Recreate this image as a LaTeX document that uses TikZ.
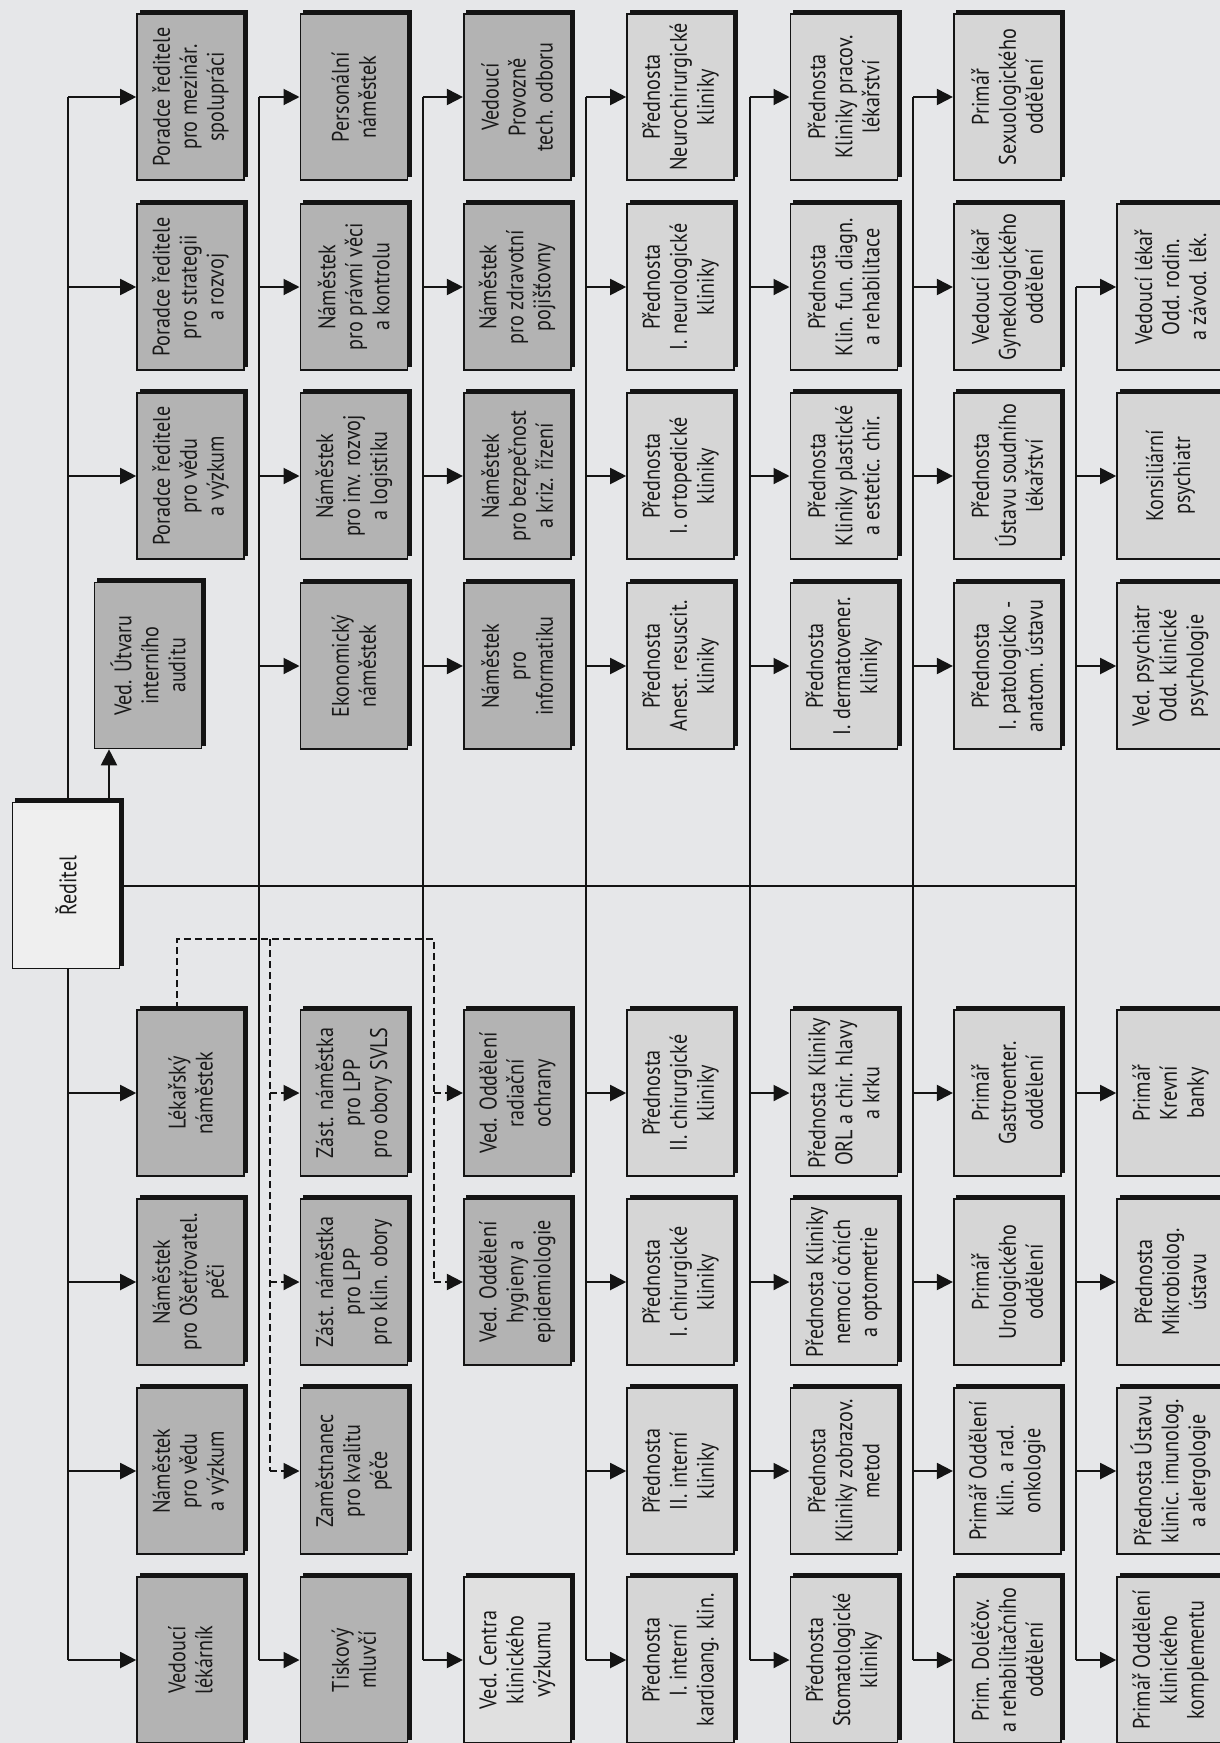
\documentclass[tikz,border=0pt]{standalone}
\usepackage{fontspec}
\setmainfont{PT Sans}[FakeStretch=0.84]
\definecolor{orgbg}   {RGB}{230,231,233}
\definecolor{orgdark} {RGB}{179,179,179}
\definecolor{orglight}{RGB}{214,214,214}
\definecolor{orgpale} {RGB}{224,224,224}
\definecolor{orgtop}  {RGB}{239,239,239}
\definecolor{orgline} {RGB}{20,20,20}
\usetikzlibrary{arrows.meta,positioning,calc,backgrounds}
\tikzset{
  orgbox/.style={rectangle,draw=orgline,line width=1.6pt,fill=#1,
                 minimum width=166pt,minimum height=107pt,rotate=90,
                 inner sep=2pt,align=center,text=black!90,
                 font=\fontsize{24}{27}\selectfont},
  orgbox/.default=orgdark,
  link/.style={line width=2pt,draw=orgline},
  arr/.style={link,-{Triangle[length=16pt,width=16pt]}},
  dlink/.style={link,dash pattern=on 7pt off 4pt},
  darr/.style={dlink,-{Triangle[length=16pt,width=16pt]}},
}

\begin{document}
\begin{tikzpicture}[x=1pt,y=-1pt]
  \useasboundingbox (0,0) rectangle (1220,1743);
  \begin{scope}[on background layer]
    \fill[orgbg] (0,0) rectangle (1220,1743);
  \end{scope}

  % director
  \node[orgbox=orgtop] (reditel) at (66,885.5) {Ředitel};
  \node[orgbox] (audit) at (148,665.5) {Ved. Útvaru\\interního\\auditu};

  % column 1
  \node[orgbox] (c1a) at (190.5,97)   {Poradce ředitele\\pro mezinár.\\spolupráci};
  \node[orgbox] (c1b) at (190.5,287)  {Poradce ředitele\\pro strategii\\a rozvoj};
  \node[orgbox] (c1c) at (190.5,476)  {Poradce ředitele\\pro vědu\\a výzkum};
  \node[orgbox] (c1e) at (190.5,1093) {Lékařský\\náměstek};
  \node[orgbox] (c1f) at (190.5,1282) {Náměstek\\pro Ošetřovatel.\\péči};
  \node[orgbox] (c1g) at (190.5,1471) {Náměstek\\pro vědu\\a výzkum};
  \node[orgbox] (c1h) at (190.5,1660) {Vedoucí\\lékárník};

  % column 2
  \node[orgbox] (c2a) at (353.8,97)   {Personální\\náměstek};
  \node[orgbox] (c2b) at (353.8,287)  {Náměstek\\pro právní věci\\a kontrolu};
  \node[orgbox] (c2c) at (353.8,476)  {Náměstek\\pro inv. rozvoj\\a logistiku};
  \node[orgbox] (c2d) at (353.8,666)  {Ekonomický\\náměstek};
  \node[orgbox] (c2e) at (353.8,1093) {Zást. náměstka\\pro LPP\\pro obory SVLS};
  \node[orgbox] (c2f) at (353.8,1282) {Zást. náměstka\\pro LPP\\pro klin. obory};
  \node[orgbox] (c2g) at (353.8,1471) {Zaměstnanec\\pro kvalitu\\péče};
  \node[orgbox] (c2h) at (353.8,1660) {Tiskový\\mluvčí};

  % column 3
  \node[orgbox] (c3a) at (517.2,97)   {Vedoucí\\Provozně\\tech. odboru};
  \node[orgbox] (c3b) at (517.2,287)  {Náměstek\\pro zdravotní\\pojišťovny};
  \node[orgbox] (c3c) at (517.2,476)  {Náměstek\\pro bezpečnost\\a kriz. řízení};
  \node[orgbox] (c3d) at (517.2,666)  {Náměstek\\pro\\informatiku};
  \node[orgbox] (c3e) at (517.2,1093) {Ved. Oddělení\\radiační\\ochrany};
  \node[orgbox] (c3f) at (517.2,1282) {Ved. Oddělení\\hygieny a\\epidemiologie};
  \node[orgbox=orgpale] (c3h) at (517.2,1660) {Ved. Centra\\klinického\\výzkumu};

  % column 4
  \node[orgbox=orglight] (c4a) at (680.5,97)   {Přednosta\\Neurochirurgické\\kliniky};
  \node[orgbox=orglight] (c4b) at (680.5,287)  {Přednosta\\I. neurologické\\kliniky};
  \node[orgbox=orglight] (c4c) at (680.5,476)  {Přednosta\\I. ortopedické\\kliniky};
  \node[orgbox=orglight] (c4d) at (680.5,666)  {Přednosta\\Anest. resuscit.\\kliniky};
  \node[orgbox=orglight] (c4e) at (680.5,1093) {Přednosta\\II. chirurgické\\kliniky};
  \node[orgbox=orglight] (c4f) at (680.5,1282) {Přednosta\\I. chirurgické\\kliniky};
  \node[orgbox=orglight] (c4g) at (680.5,1471) {Přednosta\\II. interní\\kliniky};
  \node[orgbox=orglight] (c4h) at (680.5,1660) {Přednosta\\I. interní\\kardioang. klin.};

  % column 5
  \node[orgbox=orglight] (c5a) at (843.8,97)   {Přednosta\\Kliniky pracov.\\lékařství};
  \node[orgbox=orglight] (c5b) at (843.8,287)  {Přednosta\\Klin. fun. diagn.\\a rehabilitace};
  \node[orgbox=orglight] (c5c) at (843.8,476)  {Přednosta\\Kliniky plastické\\a estetic. chir.};
  \node[orgbox=orglight] (c5d) at (843.8,666)  {Přednosta\\I. dermatovener.\\kliniky};
  \node[orgbox=orglight] (c5e) at (843.8,1093) {Přednosta Kliniky\\ORL a chir. hlavy\\a krku};
  \node[orgbox=orglight] (c5f) at (843.8,1282) {Přednosta Kliniky\\nemocí očních\\a optometrie};
  \node[orgbox=orglight] (c5g) at (843.8,1471) {Přednosta\\Kliniky zobrazov.\\metod};
  \node[orgbox=orglight] (c5h) at (843.8,1660) {Přednosta\\Stomatologické\\kliniky};

  % column 6
  \node[orgbox=orglight] (c6a) at (1007.2,97)   {Primář\\Sexuologického\\oddělení};
  \node[orgbox=orglight] (c6b) at (1007.2,287)  {Vedoucí lékař\\Gynekologického\\oddělení};
  \node[orgbox=orglight] (c6c) at (1007.2,476)  {Přednosta\\Ústavu soudního\\lékařství};
  \node[orgbox=orglight] (c6d) at (1007.2,666)  {Přednosta\\I. patologicko -\\anatom. ústavu};
  \node[orgbox=orglight] (c6e) at (1007.2,1093) {Primář\\Gastroenter.\\oddělení};
  \node[orgbox=orglight] (c6f) at (1007.2,1282) {Primář\\Urologického\\oddělení};
  \node[orgbox=orglight] (c6g) at (1007.2,1471) {Primář Oddělení\\klin. a rad.\\onkologie};
  \node[orgbox=orglight] (c6h) at (1007.2,1660) {Prim. Doléčov.\\a rehabilitačního\\oddělení};

  % column 7
  \node[orgbox=orglight] (c7b) at (1170.5,287)  {Vedoucí lékař\\Odd. rodin.\\a závod. lék.};
  \node[orgbox=orglight] (c7c) at (1170.5,476)  {Konsiliární\\psychiatr};
  \node[orgbox=orglight] (c7d) at (1170.5,666)  {Ved. psychiatr\\Odd. klinické\\psychologie};
  \node[orgbox=orglight] (c7e) at (1170.5,1093) {Primář\\Krevní\\banky};
  \node[orgbox=orglight] (c7f) at (1170.5,1282) {Přednosta\\Mikrobiolog.\\ústavu};
  \node[orgbox=orglight] (c7g) at (1170.5,1471) {Přednosta Ústavu\\klinic. imunolog.\\a alergologie};
  \node[orgbox=orglight] (c7h) at (1170.5,1660) {Primář Oddělení\\klinického\\komplementu};

  % trunks
  \coordinate (t1) at (68,885.5);
  \coordinate (t2) at (259,885.5);
  \coordinate (t3) at (422.5,885.5);
  \coordinate (t4) at (586,885.5);
  \coordinate (t5) at (749.5,885.5);
  \coordinate (t6) at (913,885.5);
  \coordinate (t7) at (1076,885.5);
  \coordinate (auditfoot) at ([xshift=43pt]reditel.east);
  \coordinate (dk) at ([xshift=-13.5pt]c1e.east);
  \coordinate (dl) at (270,939);
  \coordinate (dr) at (434,939);

  \begin{scope}[on background layer]
    \foreach \c in {1,...,6}
      \draw[link] (t\c |- c\c a.north) -- (t\c |- c\c h.north);
    \draw[link] (t7 |- c7b.north) -- (t7 |- c7h.north);
    \draw[link] (reditel.south) -- (t7);
    % box shadows (up and to the right)
    \foreach \n in {reditel,audit,c1a,c1b,c1c,c1e,c1f,c1g,c1h,
                    c2a,c2b,c2c,c2d,c2e,c2f,c2g,c2h,
                    c3a,c3b,c3c,c3d,c3e,c3f,c3h,
                    c4a,c4b,c4c,c4d,c4e,c4f,c4g,c4h,
                    c5a,c5b,c5c,c5d,c5e,c5f,c5g,c5h,
                    c6a,c6b,c6c,c6d,c6e,c6f,c6g,c6h,
                    c7b,c7c,c7d,c7e,c7f,c7g,c7h}
      \fill[orgline] ($(\n.north |- \n.west)+(3.5pt,3.5pt)$)
                     rectangle ($(\n.south |- \n.east)+(3.5pt,3.5pt)$);
  \end{scope}

  \foreach \c/\rows in {1/{a,b,c,e,f,g,h},2/{a,b,c,d,h},3/{a,b,c,d,h},
                        4/{a,b,c,d,e,f,g,h},5/{a,b,c,d,e,f,g,h},
                        6/{a,b,c,d,e,f,g,h},7/{b,c,d,e,f,g,h}}{
    \foreach \r in \rows
      \draw[arr] (t\c |- c\c\r.north) -- (c\c\r.north);
  }
  \draw[arr] (auditfoot) -- (auditfoot |- audit.west);

  % dashed lines of the medical deputy
  \draw[dlink] (dk) |- (dr) -- (dr |- c3f.north);
  \draw[dlink] (dl) -- (dl |- c2g.north);
  \foreach \n in {c2e,c2f,c2g}
    \draw[darr] (dl |- \n.north) -- (\n.north);
  \foreach \n in {c3e,c3f}
    \draw[darr] (dr |- \n.north) -- (\n.north);
\end{tikzpicture}
\end{document}
